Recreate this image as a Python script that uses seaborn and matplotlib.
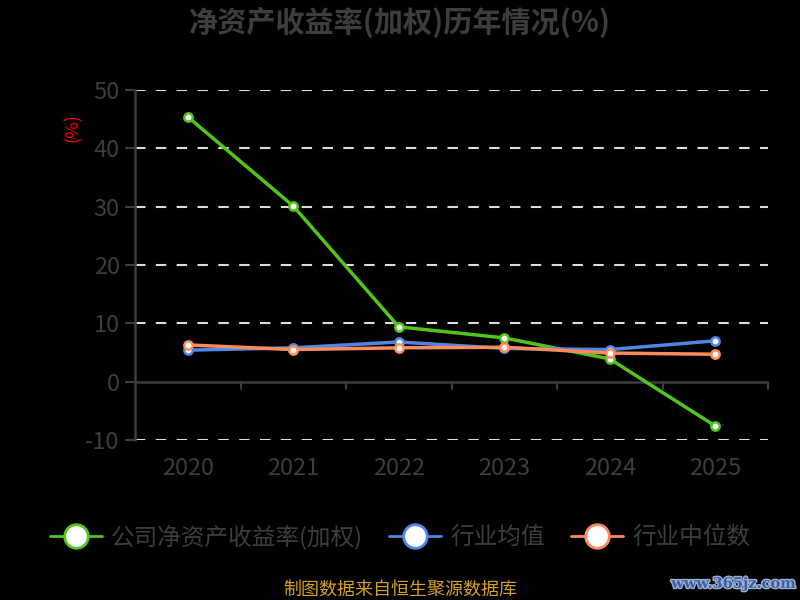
import pandas as pd
import matplotlib.pyplot as plt
import matplotlib.patheffects as pe
from matplotlib.lines import Line2D
import seaborn as sns

# Data
years = ["2020", "2021", "2022", "2023", "2024", "2025"]
company = [45.4, 30.1, 9.4, 7.5, 3.9, -7.6]
industry_mean = [5.4, 5.8, 6.8, 5.7, 5.5, 7.0]
industry_median = [6.3, 5.5, 5.8, 5.9, 4.9, 4.7]
series_names = ["公司净资产收益率(加权)", "行业均值", "行业中位数"]
y_ticks = [-10, 0, 10, 20, 30, 40, 50]

colors = ["#52c41a", "#4f86e8", "#ff8a5c"]
grey = "#3d3d3d"

sns.set_style("dark")
plt.rcParams['font.family'] = ['Noto Sans CJK SC', 'DejaVu Sans']

df = pd.DataFrame({
    "x": list(range(len(years))) * 3,
    "value": company + industry_mean + industry_median,
    "series": [s for s in series_names for _ in years],
})

fig = plt.figure(figsize=(8, 6), dpi=100, facecolor="black")
ax = fig.add_axes([0.16875, 0.2667, 0.79125, 0.5833])
ax.set_facecolor("black")

sns.lineplot(data=df, x="x", y="value", hue="series", palette=colors,
             hue_order=series_names, linewidth=2.5, marker="o", markersize=6,
             markerfacecolor="white", markeredgewidth=1.8, legend=False, ax=ax)
# marker edges in line colour
for line, c in zip(ax.get_lines(), colors):
    line.set_markeredgecolor(c)

ax.set_xlim(-0.5, len(years) - 0.5)
ax.set_ylim(-10, 50)
ax.set_yticks(y_ticks)
ax.set_yticklabels([str(v) for v in y_ticks], fontsize=17, color=grey)
ax.set_xticks(range(len(years)))
ax.set_xticklabels(years, fontsize=17, color=grey)
ax.tick_params(axis="x", length=0, pad=12)
ax.tick_params(axis="y", length=7, width=1.5, color=grey, pad=4, left=True)
ax.set_xlabel("")
ax.set_ylabel("")

# dashed grid, except at zero where the category axis sits
ax.grid(False)
for v in y_ticks:
    if v != 0:
        ax.axhline(v, color="#dddddd", linestyle=(0, (5, 5)), linewidth=1.5, zorder=0)
ax.axhline(0, color=grey, linewidth=1.8, zorder=1)
for b in [i + 0.5 for i in range(len(years))]:
    ax.plot([b, b], [0, -1.2], color=grey, linewidth=1.5, clip_on=False, zorder=1)

for s in ["top", "right", "bottom"]:
    ax.spines[s].set_visible(False)
ax.spines["left"].set_color(grey)
ax.spines["left"].set_linewidth(1.8)

fig.text(0.5, 0.962, "净资产收益率(加权)历年情况(%)", ha="center", va="center",
         fontsize=21, fontweight="bold", color=grey)
fig.text(0.091, 0.787, "(%)", rotation=90, ha="center", va="center",
         fontsize=13, color="red")

handles = [Line2D([0], [0], color=c, linewidth=2, marker="o", markersize=17,
                  markerfacecolor="white", markeredgecolor=c, markeredgewidth=2)
           for c in colors]
fig.legend(handles, series_names, loc="center", bbox_to_anchor=(0.5, 0.105),
           ncol=3, frameon=False, fontsize=17, labelcolor=grey,
           handlelength=2.2, handletextpad=0.4, columnspacing=1.1)

fig.text(0.5, 0.017, "制图数据来自恒生聚源数据库", ha="center", va="center",
         fontsize=13, color="#d4a020")
fig.text(0.917, 0.027, "www.365jz.com", ha="center", va="center", fontsize=10.5,
         fontweight="bold", color="#3a5fa8", family="DejaVu Serif",
         path_effects=[pe.withStroke(linewidth=2, foreground="#9fb0d0")])

fig.savefig("out.png", dpi=100, facecolor="black")
